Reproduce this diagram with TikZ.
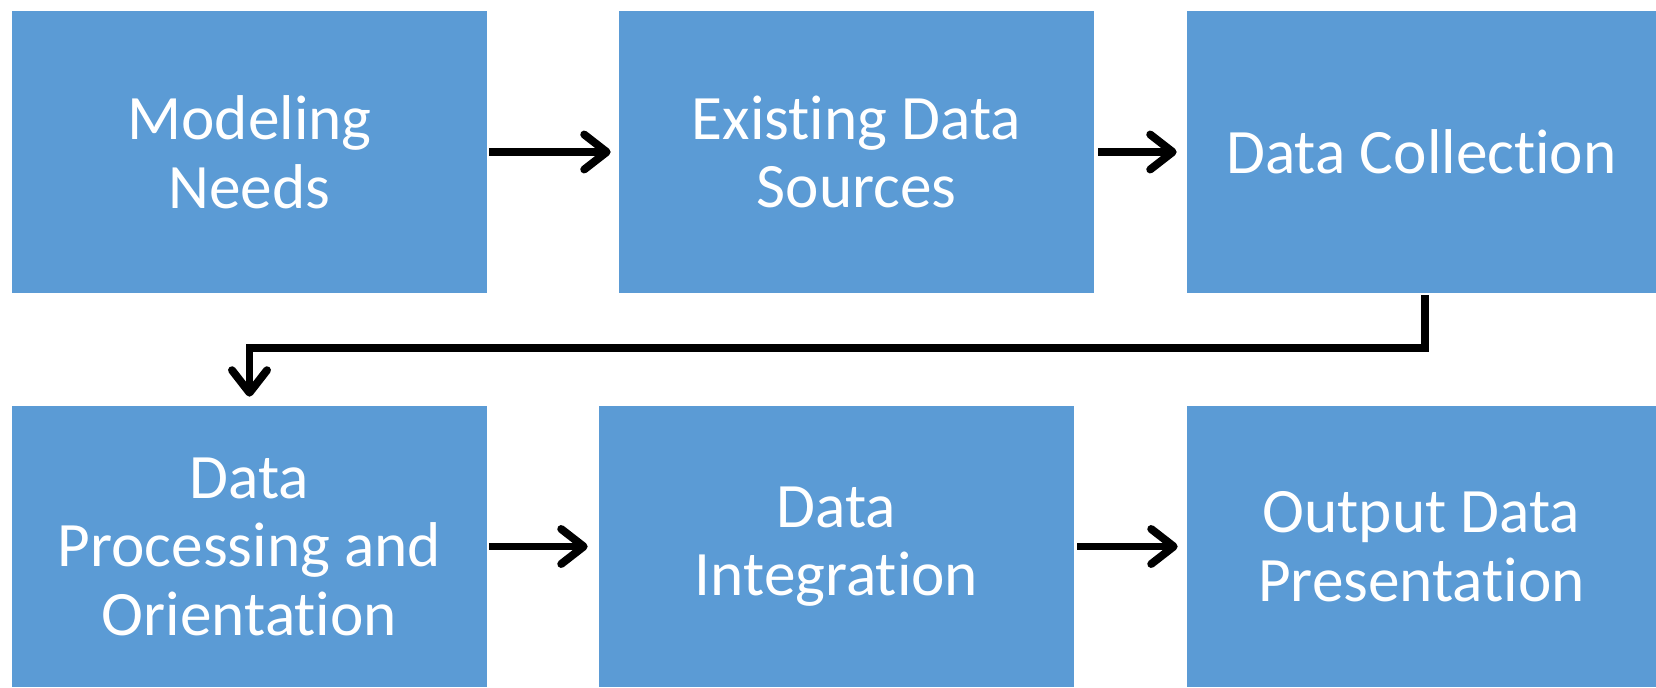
\documentclass[tikz,border=0pt]{standalone}
\usepackage{fontspec}
\setmainfont{Carlito}[RawFeature=-liga]
\usepackage{xcolor}
\usepackage{tikz}
\usetikzlibrary{arrows.meta, positioning, calc}
\definecolor{boxblue}{HTML}{5B9BD5}

\begin{document}
\begin{tikzpicture}[
	stagebox/.style={fill=boxblue, text=white, align=center, inner sep=0pt,
		minimum width=9.5cm, minimum height=5.64cm,
		font=\fontsize{36pt}{39pt}\selectfont},
	flow/.style={line width=4.5pt, -{Straight Barb[length=0.45cm, width=0.7cm, round]}}]
	\useasboundingbox (0,0) rectangle (33.12,-13.74);
	
	\node[stagebox] (model) at (4.99,-3.04) {Modeling\\Needs};
	\node[stagebox] (exist) at (17.13,-3.04) {Existing Data\\Sources};
	\node[stagebox, minimum width=9.38cm] (collect) at (28.43,-3.04) {Data Collection};
	
	\node[stagebox, minimum height=5.62cm] (process) at (4.99,-10.93) {Data\\Processing and\\Orientation};
	\node[stagebox, minimum height=5.62cm] (integr) at (16.73,-10.93) {Data\\Integration};
	\node[stagebox, minimum width=9.38cm, minimum height=5.62cm] (output) at (28.43,-10.93) {Output Data\\Presentation};
	
	\draw[flow, shorten <=0.04cm, shorten >=0.16cm] (model) -- (exist);
	\draw[flow, shorten <=0.08cm, shorten >=0.2cm] (exist) -- (collect);
	\draw[flow, shorten <=0.04cm, shorten >=0.18cm, rounded corners=0pt] ([xshift=0.07cm]collect.south) -- ++(0,-1.1) -| (process.north);
	\draw[flow, shorten <=0.04cm, shorten >=0.22cm] (process) -- (integr);
	\draw[flow, shorten <=0.06cm, shorten >=0.18cm] (integr) -- (output);
\end{tikzpicture}
\end{document}
